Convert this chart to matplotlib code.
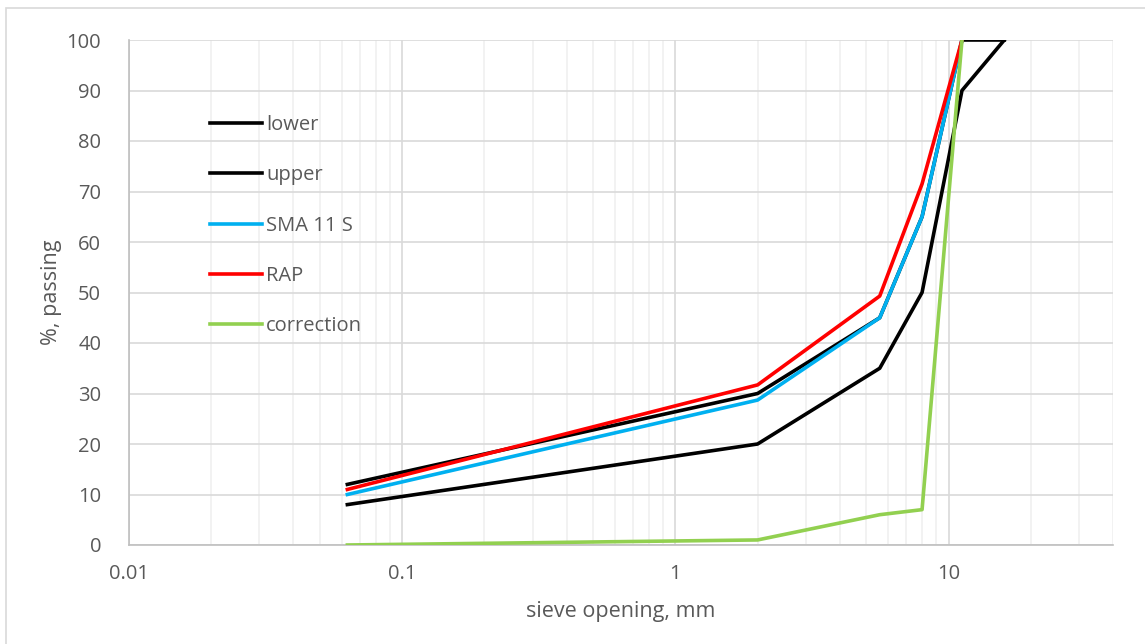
import matplotlib.pyplot as plt
from matplotlib.patches import Rectangle
from matplotlib.ticker import FixedLocator, NullFormatter, FuncFormatter

plt.rcParams['font.family'] = ['Open Sans', 'DejaVu Sans']

# sieve sizes, mm
sieves = [0.063, 2, 5.6, 8, 11.2, 16]
sieves_mix = [0.063, 2, 5.6, 8, 11.2]

lower = [8, 20, 35, 50, 90, 100]
upper = [12, 30, 45, 65, 100, 100]
sma_11s = [10, 28.7, 45, 65, 100]
rap = [11, 31.7, 49.3, 71.5, 100]
correction = [0, 1, 6, 7, 100]

grey_txt = '#595959'

fig = plt.figure(figsize=(11.45, 6.44), dpi=100)
ax = fig.add_axes([129/1145, 1 - 545/644, (1113 - 129)/1145, (545 - 40)/644])

lw = 2.6
ax.plot(sieves, lower, color='black', lw=lw, label='lower', zorder=3)
ax.plot(sieves, upper, color='black', lw=lw, label='upper', zorder=3)
ax.plot(sieves_mix, sma_11s, color='#00b0f0', lw=lw, label='SMA 11 S', zorder=3)
ax.plot(sieves_mix, rap, color='#ff0000', lw=lw, label='RAP', zorder=3)
ax.plot(sieves_mix, correction, color='#92d050', lw=lw, label='correction', zorder=3)

ax.set_xscale('log')
ax.set_xlim(0.01, 40)
ax.set_ylim(0, 100)
ax.set_yticks(range(0, 101, 10))

ax.xaxis.set_major_locator(FixedLocator([0.01, 0.1, 1, 10]))
ax.xaxis.set_major_formatter(FuncFormatter(lambda v, p: f'{v:g}'))
minors = [m * 10.0**e for e in (-2, -1, 0, 1) for m in range(2, 10)]
ax.xaxis.set_minor_locator(FixedLocator([v for v in minors if v <= 40]))
ax.xaxis.set_minor_formatter(NullFormatter())

# gridlines: light minor verticals, slightly darker majors
ax.grid(which='minor', axis='x', color='#f0f0f0', lw=1.2, zorder=0)
ax.grid(which='major', axis='x', color='#d9d9d9', lw=1.2, zorder=1)
ax.grid(which='major', axis='y', color='#d9d9d9', lw=1.2, zorder=1)

for side in ('top', 'right'):
    ax.spines[side].set_visible(False)
for side in ('left', 'bottom'):
    ax.spines[side].set_color('#bfbfbf')
    ax.spines[side].set_linewidth(1.2)

ax.tick_params(which='both', length=0, colors=grey_txt, labelsize=14.5)
ax.tick_params(axis='x', pad=14)
ax.tick_params(axis='y', pad=20)

ax.set_xlabel('sieve opening, mm', color=grey_txt, fontsize=15.5, labelpad=12)
ax.set_ylabel('%, passing', color=grey_txt, fontsize=15.5, labelpad=3)

leg = ax.legend(loc='upper left', bbox_to_anchor=(0.074, 0.867), frameon=False,
                fontsize=14.5, labelspacing=1.5, handlelength=2.6, handletextpad=0.2,
                borderaxespad=0)
for t in leg.get_texts():
    t.set_color(grey_txt)

# outer chart border
fig.patches.append(Rectangle((6/1145, -0.05), 1.2, 1 - 8/644 + 0.05,
                             transform=fig.transFigure, fill=False,
                             edgecolor='#d9d9d9', lw=1.2))

fig.savefig('out.png', dpi=100)
